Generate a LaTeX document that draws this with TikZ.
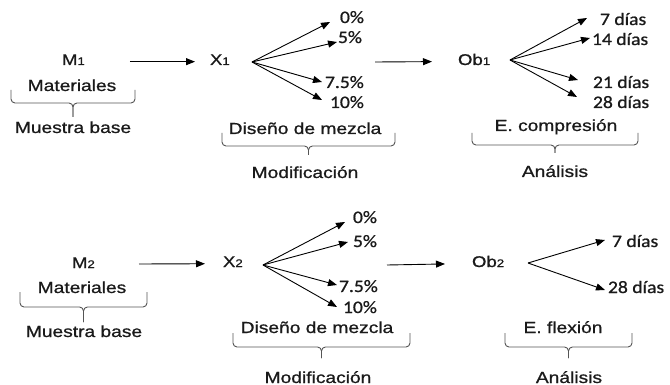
\documentclass[tikz,border=0pt]{standalone}
\usepackage{fontspec}
\usetikzlibrary{arrows.meta,calc}
\newfontfamily\arfont[FakeStretch=1.2,FakeBold=0.8]{Liberation Sans}
\newfontfamily\cbfont[FakeStretch=1.12,FakeBold=0.8]{Carlito}
\newcommand\sbd[1]{{\fontsize{11}{11}\selectfont #1}}
\definecolor{txt}{HTML}{1A1A1A}
\definecolor{bgray}{HTML}{555555}
\newcommand\mybrace[5]{%
  \draw[br] (#1,#3) -- (#1,#4) -- ({(#1+#2)/2},#4) -- ({(#1+#2)/2},#5);
  \draw[br] (#2,#3) -- (#2,#4) -- ({(#1+#2)/2},#4) -- ({(#1+#2)/2},#5);}
\begin{document}
\begin{tikzpicture}[x=1pt,y=-1pt,
  lab/.style={inner sep=0pt, outer sep=0pt, text=txt, font=\arfont\fontsize{16}{19}\selectfont},
  sym/.style={inner sep=0pt, outer sep=0pt, text=txt, font=\arfont\fontsize{15.5}{18}\selectfont},
  pct/.style={inner sep=0pt, outer sep=0pt, text=txt, font=\cbfont\fontsize{17.5}{20}\selectfont},
  arr/.style={-{Triangle[length=9pt,width=7pt]}, line width=0.9pt, draw=black},
  br/.style={draw=bgray, line width=0.9pt, rounded corners=4pt}]
\useasboundingbox[fill=white] (0,0) rectangle (670,385);

% ---------- top row ----------
\node[sym, anchor=base west] (m1) at (62,65) {M\sbd{1}};
\node[lab, anchor=base] (mat1) at (72,91) {Materiales};
\node[lab, anchor=base] (mb1) at (73,133) {Muestra base};
\mybrace{11}{135}{90}{103}{117}

\node[sym, anchor=base west] (x1) at (210,65) {X\sbd{1}};
\draw[arr, shorten <=45pt, shorten >=15pt] ([yshift=-2pt]m1.east) -- ([yshift=-2pt]x1.west);

\coordinate (o1) at (252,62);
\node[pct, anchor=base west] (a10) at (340,23) {0\%};
\node[pct, anchor=base west] (a15) at (338,43) {5\%};
\node[pct, anchor=base west] (a175) at (325,88) {7.5\%};
\node[pct, anchor=base west] (a110) at (330,108) {10\%};
\coordinate (t10) at (330,22);
\coordinate (t15) at (337,42);
\coordinate (t175) at (322,82);
\coordinate (t110) at (322,100);
\draw[arr] (o1) -- (t10);
\draw[arr] (o1) -- (t15);
\draw[arr] (o1) -- (t175);
\draw[arr] (o1) -- (t110);

\node[sym, anchor=base west] (ob1) at (458,65) {Ob\sbd{1}};
\coordinate (s1) at (375,62);
\draw[arr, shorten >=26pt] (s1) -- ([yshift=-2pt]ob1.west);

\coordinate (o2) at (510,60);
\node[pct, anchor=base west] (d17) at (600,25) {7 días};
\node[pct, anchor=base west] (d114) at (592,45) {14 días};
\node[pct, anchor=base west] (d121) at (593,88) {21 días};
\node[pct, anchor=base west] (d128) at (593,108) {28 días};
\coordinate (u17) at (587,18);
\coordinate (u114) at (590,38);
\coordinate (u121) at (578,80);
\coordinate (u128) at (577,97);
\draw[arr] (o2) -- (u17);
\draw[arr] (o2) -- (u114);
\draw[arr] (o2) -- (u121);
\draw[arr] (o2) -- (u128);

\node[lab, anchor=base] (dm1) at (305,134) {Diseño de mezcla};
\mybrace{222}{395}{133}{146}{155}
\node[lab, anchor=base] (mod1) at (305,178) {Modificación};

\node[lab, anchor=base] (ec1) at (556,131) {E. compresión};
\mybrace{472}{638}{133}{145}{153}
\node[lab, anchor=base] (an1) at (555,177) {Análisis};

% ---------- bottom row ----------
\node[sym, anchor=base west] (m2) at (72,268) {M\sbd{2}};
\node[lab, anchor=base] (mat2) at (82,293) {Materiales};
\node[lab, anchor=base] (mb2) at (84,337) {Muestra base};
\mybrace{20}{147}{292}{307}{322}

\node[sym, anchor=base west] (x2) at (223,267) {X\sbd{2}};
\coordinate (s2a) at (139,264);
\draw[arr, shorten >=18pt] (s2a) -- ([yshift=-2pt]x2.west);

\coordinate (o3) at (263,265);
\node[pct, anchor=base west] (a20) at (353,223) {0\%};
\node[pct, anchor=base west] (a25) at (353,247) {5\%};
\node[pct, anchor=base west] (a275) at (339,292) {7.5\%};
\node[pct, anchor=base west] (a210) at (343,313) {10\%};
\coordinate (t20) at (345,222);
\coordinate (t25) at (348,242);
\coordinate (t275) at (337,285);
\coordinate (t210) at (337,307);
\draw[arr] (o3) -- (t20);
\draw[arr] (o3) -- (t25);
\draw[arr] (o3) -- (t275);
\draw[arr] (o3) -- (t210);

\node[sym, anchor=base west] (ob2) at (472,267) {Ob\sbd{2}};
\coordinate (s2) at (387,265);
\draw[arr, shorten >=27pt] (s2) -- ([yshift=-2pt]ob2.west);

\coordinate (o4) at (528,263);
\node[pct, anchor=base west] (d27) at (612,247) {7 días};
\node[pct, anchor=base west] (d228) at (608,293) {28 días};
\coordinate (u27) at (605,240);
\coordinate (u228) at (605,290);
\draw[arr] (o4) -- (u27);
\draw[arr] (o4) -- (u228);

\node[lab, anchor=base] (dm2) at (317,333) {Diseño de mezcla};
\mybrace{233}{410}{333}{347}{358}
\node[lab, anchor=base] (mod2) at (318,383) {Modificación};

\node[lab, anchor=base] (ef2) at (563,333) {E. flexión};
\mybrace{505}{632}{333}{347}{358}
\node[lab, anchor=base] (an2) at (569,383) {Análisis};
\end{tikzpicture}
\end{document}
